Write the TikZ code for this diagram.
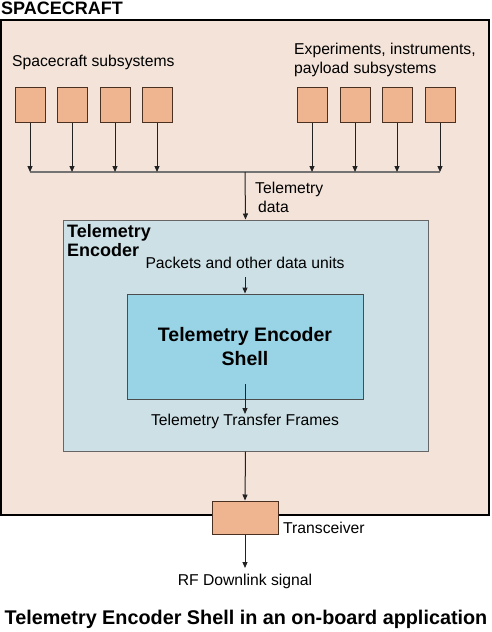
\documentclass[tikz,border=0pt]{standalone}
\usepackage{fontspec}
\setmainfont{Liberation Sans}
\usetikzlibrary{arrows.meta}
\definecolor{outerfill}{HTML}{F3E3D9}
\definecolor{unitfill}{HTML}{EFB590}
\definecolor{unitline}{HTML}{4A3020}
\definecolor{encfill}{HTML}{CCE0E6}
\definecolor{shellfill}{HTML}{99D3E6}
\definecolor{wire}{HTML}{222222}
\tikzset{
  unit/.style={draw=unitline, fill=unitfill, line width=1pt, minimum width=30pt, minimum height=35pt, inner sep=0pt},
  conn/.style={draw=wire, line width=1pt, -{Triangle[length=6pt,width=5pt]}},
  bus/.style={draw=black!55, line width=1.5pt},
  lbl/.style={font=\fontsize{15.7}{19}\selectfont, inner sep=0pt},
  blbl/.style={font=\fontsize{18}{19}\selectfont\bfseries, inner sep=0pt},
}
\begin{document}
\begin{tikzpicture}[x=1pt,y=-1pt]
\useasboundingbox (0,0) rectangle (491,632);
% outer spacecraft box
\node[draw=black, fill=outerfill, line width=2.5pt, minimum width=488pt, minimum height=495pt, inner sep=0pt] (sc) at (245,267.5) {};
\node[blbl, anchor=west] (sctitle) at (1,8) {SPACECRAFT};
% encoder box
\node[draw=black!60, fill=encfill, line width=1pt, minimum width=365pt, minimum height=231pt, inner sep=0pt] (enc) at (245.5,335.5) {};
\node[blbl, anchor=north west, align=left] (enclbl) at (67,224) {Telemetry\\Encoder};
% shell
\node[draw=black!70, fill=shellfill, line width=1pt, minimum width=236pt, minimum height=105pt, inner sep=0pt, font=\fontsize{19.5}{24}\selectfont\bfseries, align=center] (shell) at (245,346.5) {Telemetry Encoder\\Shell};
% subsystem units
\node[unit] (u1) at (30,104.5) {};
\node[unit] (u2) at (72,104.5) {};
\node[unit] (u3) at (115,104.5) {};
\node[unit] (u4) at (157,104.5) {};
\node[unit] (u5) at (312,104.5) {};
\node[unit] (u6) at (355,104.5) {};
\node[unit] (u7) at (397,104.5) {};
\node[unit] (u8) at (440,104.5) {};
\node[lbl, anchor=west] (sslbl) at (12,62) {Spacecraft subsystems};
\node[lbl, anchor=north west, align=left] (exlbl) at (294,43) {Experiments, instruments,\\payload subsystems};
% bus
\coordinate (b1) at (30,172);
\coordinate (b2) at (72,172);
\coordinate (b3) at (115,172);
\coordinate (b4) at (157,172);
\coordinate (b5) at (312,172);
\coordinate (b6) at (355,172);
\coordinate (b7) at (397,172);
\coordinate (b8) at (440,172);
\coordinate (bm) at (245,172);
\draw[bus] (b1) -- (b8);
\foreach \i in {1,...,8} { \draw[conn] (u\i.south) -- (b\i); }
\draw[conn] (bm) -- (enc.north);
\node[lbl, anchor=north west, align=left] (tdlbl) at (255,182) {Telemetry\\\hspace*{3pt}data};
% packets
\node[lbl] (pklbl) at (245,263) {Packets and other data units};
\coordinate (pk) at (245,277);
\draw[conn] (pk) -- (shell.north);
\coordinate (so) at (245,384);
\coordinate (se) at (245,414);
\draw[conn] (so) -- (se);
\node[lbl] (tflbl) at (245,421) {Telemetry Transfer Frames};
% transceiver
\node[draw=unitline, fill=unitfill, line width=1pt, minimum width=66pt, minimum height=33pt, inner sep=0pt] (tr) at (245,517.5) {};
\draw[conn] (enc.south) -- (tr.north);
\node[lbl, anchor=west] (trlbl) at (283,528) {Transceiver};
\coordinate (rf) at (245,568);
\draw[conn] (tr.south) -- (rf);
\node[lbl] (rflbl) at (245,581) {RF Downlink signal};
\node[font=\fontsize{19.8}{22}\selectfont\bfseries, inner sep=0pt] (title) at (246,619) {Telemetry Encoder Shell in an on-board application};
\end{tikzpicture}
\end{document}
